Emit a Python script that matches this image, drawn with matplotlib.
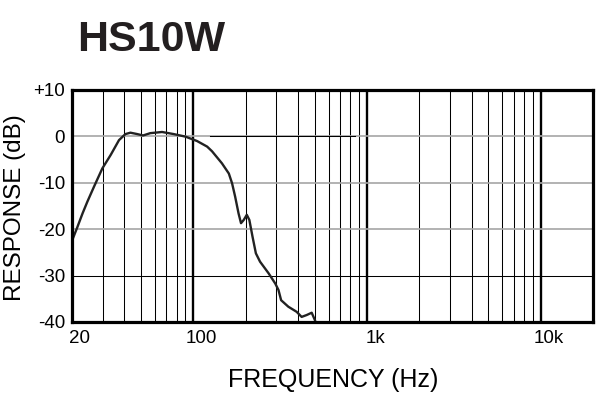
import matplotlib
matplotlib.use("Agg")
import matplotlib.pyplot as plt
import matplotlib.transforms as mtransforms
from matplotlib.ticker import NullLocator

# frequency response
freq_hz = [20, 21.5, 23, 24.5, 26.8, 29.9, 33.4, 37.3, 40.6, 43.4, 47.5, 51.3,
           56.5, 66, 77, 90, 105, 120, 128, 146, 160, 167, 174, 182, 188, 195,
           203, 210, 219, 229, 242, 271, 296, 309, 320, 352, 393, 420, 449,
           480, 501, 515]
response_db = [-22.5, -19.5, -16.6, -14.1, -10.8, -6.9, -4.0, -0.8, 0.5, 0.8,
               0.5, 0.2, 0.7, 0.95, 0.5, -0.05, -1.0, -2.2, -3.2, -5.8, -8.0,
               -10.1, -13.0, -16.6, -18.7, -18.0, -16.9, -18.0, -21.6, -25.2,
               -27.0, -29.5, -31.7, -33.1, -35.3, -36.7, -37.8, -38.9, -38.5,
               -38.0, -39.6, -41.0]

xtick_vals = [20, 100, 1000, 10000]
xtick_labels = ["20", "100", "1k", "10k"]
ytick_vals = [10, 0, -10, -20, -30, -40]
ytick_labels = ["+10", "0", "-10", "-20", "-30", "-40"]

major_lines = [100, 1000, 10000]
minor_lines = [30, 40, 50, 60, 70, 80, 90,
               200, 300, 400, 500, 600, 700, 800, 900,
               2000, 3000, 4000, 5000, 6000, 7000, 8000, 9000]
grey_levels = [0, -10, -20]
black_levels = [-30]

plt.rcParams["font.family"] = ["Liberation Sans", "DejaVu Sans"]

fig = plt.figure(figsize=(6, 3.97), dpi=100)
ax = fig.add_axes([72 / 600, 75 / 397, 521 / 600, 232 / 397])

ax.set_xscale("log")
ax.set_xlim(20, 20000)
ax.set_ylim(-40, 10)

for f in minor_lines:
    ax.axvline(f, color="black", lw=0.75, zorder=1)
for f in major_lines:
    ax.axvline(f, color="black", lw=1.7, zorder=1)
for y in grey_levels:
    ax.axhline(y, color="#a6a6a6", lw=1.2, zorder=1.5)
for y in black_levels:
    ax.axhline(y, color="black", lw=0.75, zorder=1.5)
# the 0 dB line is printed black over part of its length
ax.axhline(0, xmin=0.265, xmax=0.543, color="black", lw=0.75, zorder=1.6)

ax.plot(freq_hz, response_db, color="#222222", lw=1.7, zorder=3,
        solid_joinstyle="round")

ax.set_xticks(xtick_vals)
ax.set_xticklabels(xtick_labels)
ax.xaxis.set_minor_locator(NullLocator())
ax.set_yticks(ytick_vals)
ax.set_yticklabels(ytick_labels)
ax.tick_params(axis="both", length=0, labelsize=13.5, colors="black")
ax.tick_params(axis="x", pad=6)
ax.tick_params(axis="y", pad=5)

shift = mtransforms.ScaledTranslation(8 / 100, 0, fig.dpi_scale_trans)
for lab in ax.get_xticklabels():
    lab.set_transform(lab.get_transform() + shift)

for side in ["left", "right", "top", "bottom"]:
    ax.spines[side].set_linewidth(2.3)
    ax.spines[side].set_color("black")
    ax.spines[side].set_zorder(4)

fig.text(333.5 / 600, (397 - 387) / 397, "FREQUENCY (Hz)", fontsize=18,
         ha="center", va="baseline")
fig.text(15 / 600, 1 - 208 / 397, "RESPONSE (dB)", fontsize=17.5,
         rotation=90, ha="center", va="center")

fig.text(77 / 600, (397 - 51) / 397, "HS10W", fontsize=31, fontweight="bold",
         color="#231f20", ha="left", va="baseline")

fig.savefig("out.png", dpi=100)
